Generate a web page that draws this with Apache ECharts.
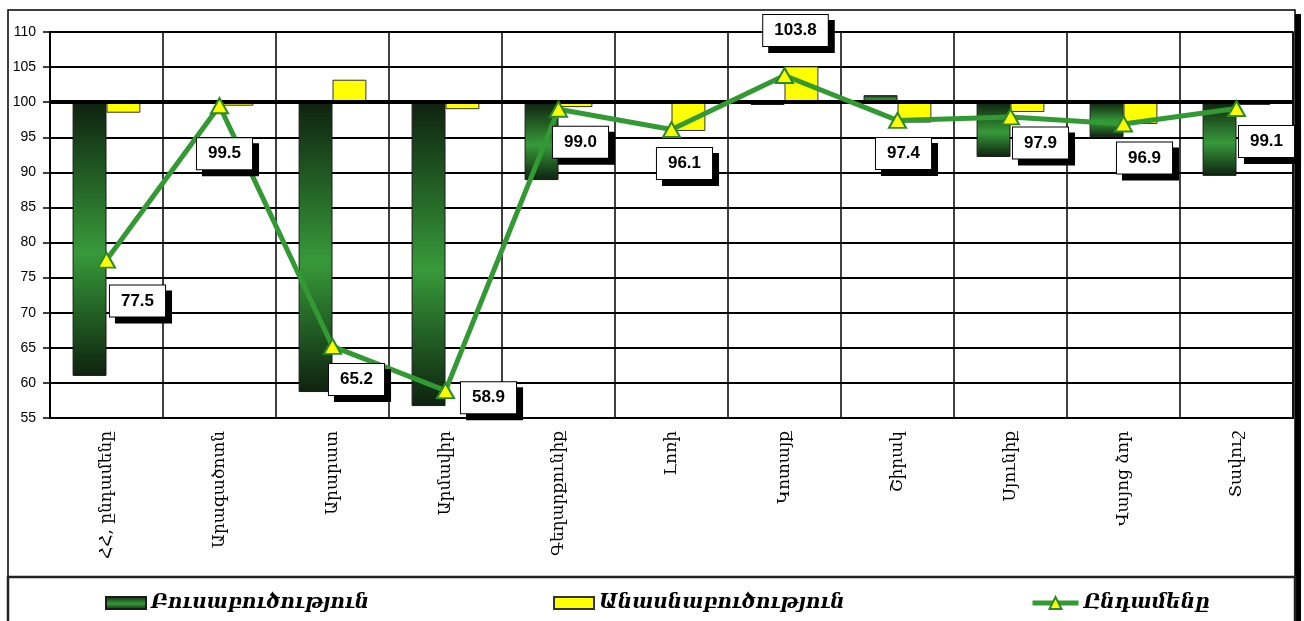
<!DOCTYPE html>
<html>
<head>
<meta charset="utf-8">
<script src="https://cdn.jsdelivr.net/npm/echarts@6/dist/echarts.min.js"></script>
<style>
  html, body { margin: 0; padding: 0; background: #fff; }
  #main { width: 1304px; height: 621px; }
</style>
</head>
<body>
<div id="main"></div>
<script>
const categories = ['ՀՀ, ընդամենը', 'Արագածոտն', 'Արարատ', 'Արմավիր', 'Գեղարքունիք', 'Լոռի', 'Կոտայք', 'Շիրակ', 'Սյունիք', 'Վայոց ձոր', 'Տավուշ']
const crop = [61.0, 100.0, 58.7, 56.7, 88.9, 100.0, 99.6, 101.0, 92.2, 95.0, 89.5]
const livestock = [98.5, 99.5, 103.2, 99.0, 99.3, 95.9, 105.1, 97.1, 98.6, 96.9, 99.6]
const total = [77.5, 99.5, 65.2, 58.9, 99.0, 96.1, 103.8, 97.4, 97.9, 96.9, 99.1]
const names = ['Բուսաբուծություն', 'Անասնաբուծություն', 'Ընդամենը']
const baseLine = 100

// label box offsets from each point (px)
const labelOffsets = [[31, 41], [5, 48], [24, 33], [43, 7], [22, 33], [13, 34], [11, -45], [6, 33], [30, 26], [21, 34], [30, 33]]

const lower = arr => arr.map(v => Math.min(v, baseLine))
const delta = arr => arr.map(v => Math.abs(v - baseLine))

const greenFill = new echarts.graphic.LinearGradient(0, 0, 0, 1, [
  { offset: 0, color: '#0e220f' },
  { offset: 0.55, color: '#379a3a' },
  { offset: 1, color: '#0e220f' }
])

const legendText = { fontFamily: 'DejaVu Serif', fontStyle: 'italic', fontWeight: 'bold', fontSize: 20, color: '#000' }

const myChart = echarts.init(document.getElementById('main'))
myChart.setOption({
  animation: false,
  grid: { left: 50, top: 32, right: 11, bottom: 203, show: true, borderColor: '#000', borderWidth: 1.5 },
  graphic: [
    { type: 'rect', shape: { x: 1295, y: 14, width: 6, height: 610 }, style: { fill: '#000' } },
    { type: 'rect', shape: { x: 8, y: 10, width: 1287, height: 620 }, style: { fill: 'none', stroke: '#000', lineWidth: 1.5 } },
    { type: 'rect', shape: { x: 8, y: 577, width: 1287, height: 50 }, style: { fill: 'none', stroke: '#222', lineWidth: 2.5 } }
  ],
  legend: [
    { data: [names[0]], left: 100, top: 588, icon: 'rect', itemWidth: 40, itemHeight: 12, textStyle: legendText },
    { data: [names[1]], left: 548, top: 588, icon: 'rect', itemWidth: 40, itemHeight: 12, textStyle: legendText },
    { data: [names[2]], left: 1025, top: 588, itemWidth: 46, itemHeight: 15,
      lineStyle: { width: 5 }, textStyle: legendText }
  ],
  xAxis: {
    type: 'category',
    data: categories,
    boundaryGap: true,
    axisLine: { lineStyle: { color: '#000', width: 2 } },
    axisTick: { show: false },
    splitLine: { show: true, lineStyle: { color: '#000', width: 1.5 } },
    axisLabel: { rotate: 90, interval: 0, margin: 13, color: '#000', fontFamily: 'DejaVu Serif', fontSize: 17 }
  },
  yAxis: {
    type: 'value',
    min: 55,
    max: 110,
    interval: 5,
    axisLine: { show: true, lineStyle: { color: '#000', width: 2 } },
    axisTick: { show: true, length: 7, lineStyle: { color: '#000', width: 1.5 } },
    splitLine: { lineStyle: { color: '#000', width: 2 } },
    axisLabel: { margin: 14, color: '#000', fontFamily: 'Liberation Sans', fontSize: 14 }
  },
  series: [
    { name: 'gbase', type: 'bar', stack: 'g', data: lower(crop), itemStyle: { color: 'transparent' },
      barGap: '0%', barCategoryGap: '40%', silent: true },
    { name: names[0], type: 'bar', stack: 'g', data: delta(crop),
      itemStyle: { color: greenFill, borderColor: '#1a1a1a', borderWidth: 1 } },
    { name: 'ybase', type: 'bar', stack: 'y', data: lower(livestock), itemStyle: { color: 'transparent' }, silent: true },
    { name: names[1], type: 'bar', stack: 'y', data: delta(livestock),
      itemStyle: { color: '#ffff00', borderColor: '#333', borderWidth: 1 },
      markLine: {
        silent: true, symbol: 'none', label: { show: false },
        lineStyle: { color: '#000', width: 4, type: 'solid' },
        data: [{ yAxis: baseLine }]
      } },
    {
      name: names[2],
      type: 'line',
      z: 5,
      data: total.map((v, i) => ({ value: v, label: { offset: labelOffsets[i] } })),
      symbol: 'triangle',
      symbolSize: [17, 15],
      lineStyle: { color: '#339933', width: 5 },
      itemStyle: { color: '#ffff00', borderColor: '#2a8a2a', borderWidth: 2 },
      label: {
        show: true,
        position: 'inside',
        formatter: p => p.value.toFixed(1),
        fontFamily: 'Liberation Sans',
        fontWeight: 'bold',
        fontSize: 17,
        color: '#000',
        backgroundColor: '#fff',
        borderColor: '#000',
        borderWidth: 1,
        padding: [8, 11, 6, 11],
        shadowColor: '#000',
        shadowOffsetX: 6,
        shadowOffsetY: 6,
        shadowBlur: 0
      }
    }
  ]
})
</script>
</body>
</html>
